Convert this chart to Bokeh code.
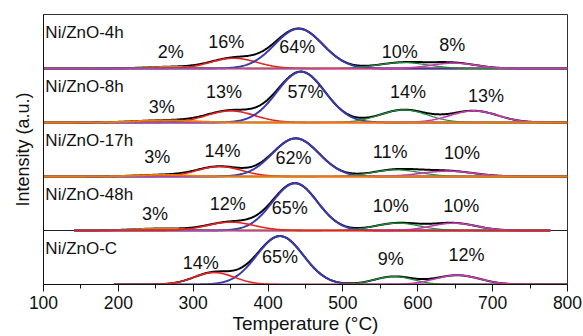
import numpy as np
from bokeh.plotting import figure
from bokeh.models import Range1d, FixedTicker, Span
from bokeh.core.properties import value
from bokeh.embed import file_html
from bokeh.resources import INLINE

FONT = "Liberation Sans"

# ---------------- data ----------------
samples = ["Ni/ZnO-4h", "Ni/ZnO-8h", "Ni/ZnO-17h", "Ni/ZnO-48h", "Ni/ZnO-C"]
components = ["orange", "red", "blue", "green", "magenta"]

# percentage of each reduction component (orange, red, blue, green, magenta)
pct_4h = [2, 16, 64, 10, 8]
pct_8h = [3, 13, 57, 14, 13]
pct_17h = [3, 14, 62, 11, 10]
pct_48h = [3, 12, 65, 10, 10]
pct_C = [None, 14, 65, 9, 12]

# fitted peak centres (°C)
center_4h = [270, 354, 441, 580, 648]
center_8h = [262, 350, 444, 581, 675]
center_17h = [258, 335, 437, 571, 640]
center_48h = [255, 350, 436, 573, 648]
center_C = [None, 328, 416, 568, 653]

# fitted peak heights (a.u., panel height = 1)
height_4h = [0.03, 0.19, 0.737, 0.11, 0.10]
height_8h = [0.04, 0.215, 0.94, 0.234, 0.215]
height_17h = [0.03, 0.184, 0.706, 0.123, 0.10]
height_48h = [0.035, 0.155, 0.874, 0.136, 0.136]
height_C = [None, 0.221, 0.896, 0.147, 0.171]

# fitted peak widths (sigma, °C)
sigma_4h = [35, 31, 32, 33, 30]
sigma_8h = [40, 32, 32, 31.6, 32]
sigma_17h = [35, 30, 31, 31.5, 35]
sigma_48h = [35, 31, 30, 30, 30]
sigma_C = [None, 27, 31, 26, 30]

# measured temperature span of each profile (°C)
t_start = [100, 100, 100, 141, 194]
t_end = [800, 800, 800, 777, 800]

x_ticks = [100, 200, 300, 400, 500, 600, 700, 800]
x_minor = [150, 250, 350, 450, 550, 650, 750]

# ---------------- label anchors (positions) ----------------
lab_x_4h = [270, 344, 439, 576, 646]
lab_dy_4h = [0.31, 0.50, 0.39, 0.30, 0.43]
lab_x_8h = [258, 341, 450, 587, 691]
lab_dy_8h = [0.28, 0.56, 0.56, 0.56, 0.50]
lab_x_17h = [252, 339, 434, 563, 659]
lab_dy_17h = [0.36, 0.48, 0.34, 0.46, 0.43]
lab_x_48h = [249, 346, 429, 564, 658]
lab_dy_48h = [0.31, 0.50, 0.41, 0.455, 0.455]
lab_x_C = [None, 310, 416, 564, 665]
lab_dy_C = [None, 0.405, 0.516, 0.48, 0.54]

colors = {"orange": "#f07a00", "red": "#e42222", "blue": "#3a3aae",
          "green": "#1f8f3a", "magenta": "#c23eb0"}
widths = {"orange": 1.8, "red": 1.6, "blue": 2.0, "green": 1.3, "magenta": 1.6}

# drawing order (last drawn shows on the baseline)
orders = [
    ["orange", "red", "blue", "green", "magenta"],
    ["red", "blue", "green", "magenta", "orange"],
    ["red", "blue", "green", "magenta", "orange"],
    ["orange", "blue", "green", "magenta", "red"],
    ["blue", "green", "magenta", "red"],
]

pcts = [pct_4h, pct_8h, pct_17h, pct_48h, pct_C]
centers = [center_4h, center_8h, center_17h, center_48h, center_C]
heights = [height_4h, height_8h, height_17h, height_48h, height_C]
sigmas = [sigma_4h, sigma_8h, sigma_17h, sigma_48h, sigma_C]
lab_xs = [lab_x_4h, lab_x_8h, lab_x_17h, lab_x_48h, lab_x_C]
lab_dys = [lab_dy_4h, lab_dy_8h, lab_dy_17h, lab_dy_48h, lab_dy_C]

n = len(samples)

p = figure(width=583, height=336, x_range=Range1d(100, 800), y_range=Range1d(0, n),
           output_backend="svg", toolbar_location=None,
           min_border_left=43, min_border_right=16, min_border_top=14, min_border_bottom=51)
p.xgrid.grid_line_color = None
p.ygrid.grid_line_color = None
p.outline_line_color = "#333333"
p.outline_line_width = 1
p.background_fill_color = "white"
p.border_fill_color = "white"

# separators between panels
for k in range(1, n):
    p.add_layout(Span(location=k, dimension="width", line_color="#222222",
                      line_width=1, level="underlay"))

for i in range(n):
    off = n - 1 - i
    x = np.linspace(t_start[i], t_end[i], 600)
    comps = {}
    for j, c in enumerate(components):
        if centers[i][j] is None:
            continue
        comps[c] = heights[i][j] * np.exp(-0.5 * ((x - centers[i][j]) / sigmas[i][j]) ** 2)
    total = sum(comps.values())
    p.line(x, total + off, line_color="black", line_width=2.0)
    for c in orders[i]:
        p.line(x, comps[c] + off, line_color=colors[c], line_width=widths[c])

    # sample name
    p.text(x=[102.5], y=[off + 0.671], text=[samples[i]], text_font=value(FONT),
           text_font_size="17px", text_color="#111111", text_align="left",
           text_baseline="alphabetic")
    # percentages
    lx, ly, lt = [], [], []
    for j in range(len(components)):
        if pcts[i][j] is None:
            continue
        lx.append(lab_xs[i][j])
        ly.append(off + lab_dys[i][j])
        lt.append(f"{pcts[i][j]}%")
    p.text(x=lx, y=ly, text=lt, text_font=value(FONT), text_font_size="18px",
           text_color="#111111", text_align="center", text_baseline="middle")

# x axis
xa = p.xaxis[0]
xa.ticker = FixedTicker(ticks=x_ticks, minor_ticks=x_minor)
xa.major_tick_in = 0
xa.major_tick_out = 7
xa.minor_tick_in = 0
xa.minor_tick_out = 4
xa.major_label_standoff = 4
xa.major_label_text_font = FONT
xa.major_label_text_font_size = "17.5px"
xa.major_label_text_color = "#111111"
xa.axis_line_color = "#111111"
xa.major_tick_line_color = "#111111"
xa.minor_tick_line_color = "#111111"
xa.axis_label = "Temperature (°C)"
xa.axis_label_text_font = FONT
xa.axis_label_text_font_size = "19px"
xa.axis_label_text_font_style = "normal"
xa.axis_label_text_color = "#111111"
xa.axis_label_standoff = 1

# y axis
ya = p.yaxis[0]
ya.ticker = FixedTicker(ticks=[])
ya.major_tick_out = 0
ya.major_tick_in = 0
ya.minor_tick_out = 0
ya.minor_tick_in = 0
ya.axis_label = "Intensity (a.u.)"
ya.axis_label_text_font = FONT
ya.axis_label_text_font_size = "18px"
ya.axis_label_text_font_style = "normal"
ya.axis_label_text_color = "#111111"
ya.axis_label_standoff = 11
ya.axis_line_color = "#111111"

open("out.html", "w").write(file_html(p, INLINE))
